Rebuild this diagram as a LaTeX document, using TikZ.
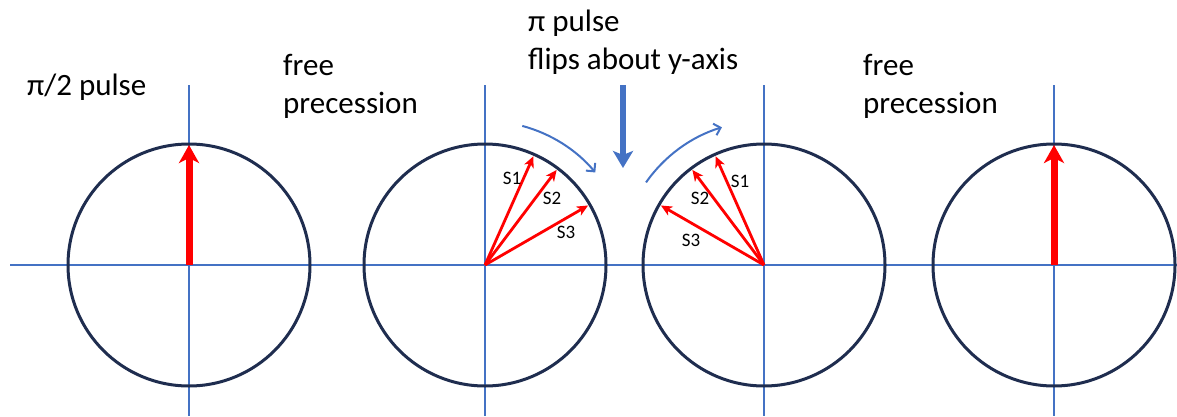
\documentclass[tikz,border=0pt]{standalone}
\usepackage{fontspec}
\setmainfont{Carlito}
\usetikzlibrary{arrows.meta,calc}
\definecolor{navy}{HTML}{1F2D4F}
\definecolor{axblue}{HTML}{4472C4}
\definecolor{pred}{HTML}{FF0000}
\begin{document}
\begin{tikzpicture}[x=1pt,y=1pt,
  axis/.style={axblue, line width=1.2pt},
  ring/.style={circle, draw=navy, line width=3pt, minimum size=242pt, inner sep=0pt, outer sep=0pt},
  bigvec/.style={pred, line width=7pt, -{Stealth[length=18pt,width=20pt,inset=5pt]}},
  smallvec/.style={pred, line width=2.8pt, -{Stealth[length=11pt,width=10pt,inset=3pt]}},
  turn/.style={axblue, line width=2pt, -{Straight Barb[length=6pt,width=12pt]}},
  flip/.style={axblue, line width=6.5pt, -{Stealth[length=17pt,width=20pt,inset=4pt]}},
  lbl/.style={font=\fontsize{31}{38}\selectfont, align=left, anchor=base west, inner sep=0pt},
  slbl/.style={font=\fontsize{19}{22}\selectfont, inner sep=0pt}]
\useasboundingbox (0,0) rectangle (1177,416);
% centres
\coordinate (o1) at (189,151);
\coordinate (o2) at (485,151);
\coordinate (o3) at (764,151);
\coordinate (o4) at (1054,151);
% axes
\coordinate (axL) at (10,151);
\coordinate (axR) at (1177,151);
\draw[axis] (axL) -- (axR);
\foreach \i in {1,2,3,4}{
  \coordinate (t\i) at ($(o\i)+(0,180)$);
  \coordinate (b\i) at ($(o\i)+(0,-151)$);
  \draw[axis] (t\i) -- (b\i);
}
% circles
\foreach \i in {1,2,3,4}{
  \node[ring] (c\i) at (o\i) {};
}
% big vectors
\coordinate (v1) at ($(o1)+(0,120)$);
\coordinate (v4) at ($(o4)+(0,120)$);
\draw[bigvec] (o1) -- (v1);
\draw[bigvec] (o4) -- (v4);
% spread vectors
\coordinate (s21) at ($(o2)+(66:119)$);
\coordinate (s22) at ($(o2)+(53:119)$);
\coordinate (s23) at ($(o2)+(30:119)$);
\coordinate (s31) at ($(o3)+(114:119)$);
\coordinate (s32) at ($(o3)+(127:119)$);
\coordinate (s33) at ($(o3)+(150:119)$);
\draw[smallvec] (o2) -- (s21);
\draw[smallvec] (o2) -- (s22);
\draw[smallvec] (o2) -- (s23);
\draw[smallvec] (o3) -- (s31);
\draw[smallvec] (o3) -- (s32);
\draw[smallvec] (o3) -- (s33);
\node[slbl] (l21) at (512,238) {S1};
\node[slbl] (l22) at (552,218) {S2};
\node[slbl] (l23) at (566,184) {S3};
\node[slbl] (l31) at (740,235) {S1};
\node[slbl] (l32) at (700,218) {S2};
\node[slbl] (l33) at (691,176) {S3};
% rotation arcs
\draw[turn] ($(o2)+(75:144)$) arc[start angle=75, end angle=40, radius=144];
\draw[turn] ($(o3)+(145:144)$) arc[start angle=145, end angle=107, radius=144];
% flip arrow
\coordinate (fa) at (623,331);
\coordinate (fb) at (623,248);
\draw[flip] (fa) -- (fb);
% texts
\node[lbl] (tx1) at (27,321) {π/2 pulse};
\node[lbl] (tx2) at (283,303) {free\\precession};
\node[lbl] (tx3) at (528,346) {π pulse\\flips about y-axis};
\node[lbl] (tx4) at (863,303) {free\\precession};
\end{tikzpicture}
\end{document}
